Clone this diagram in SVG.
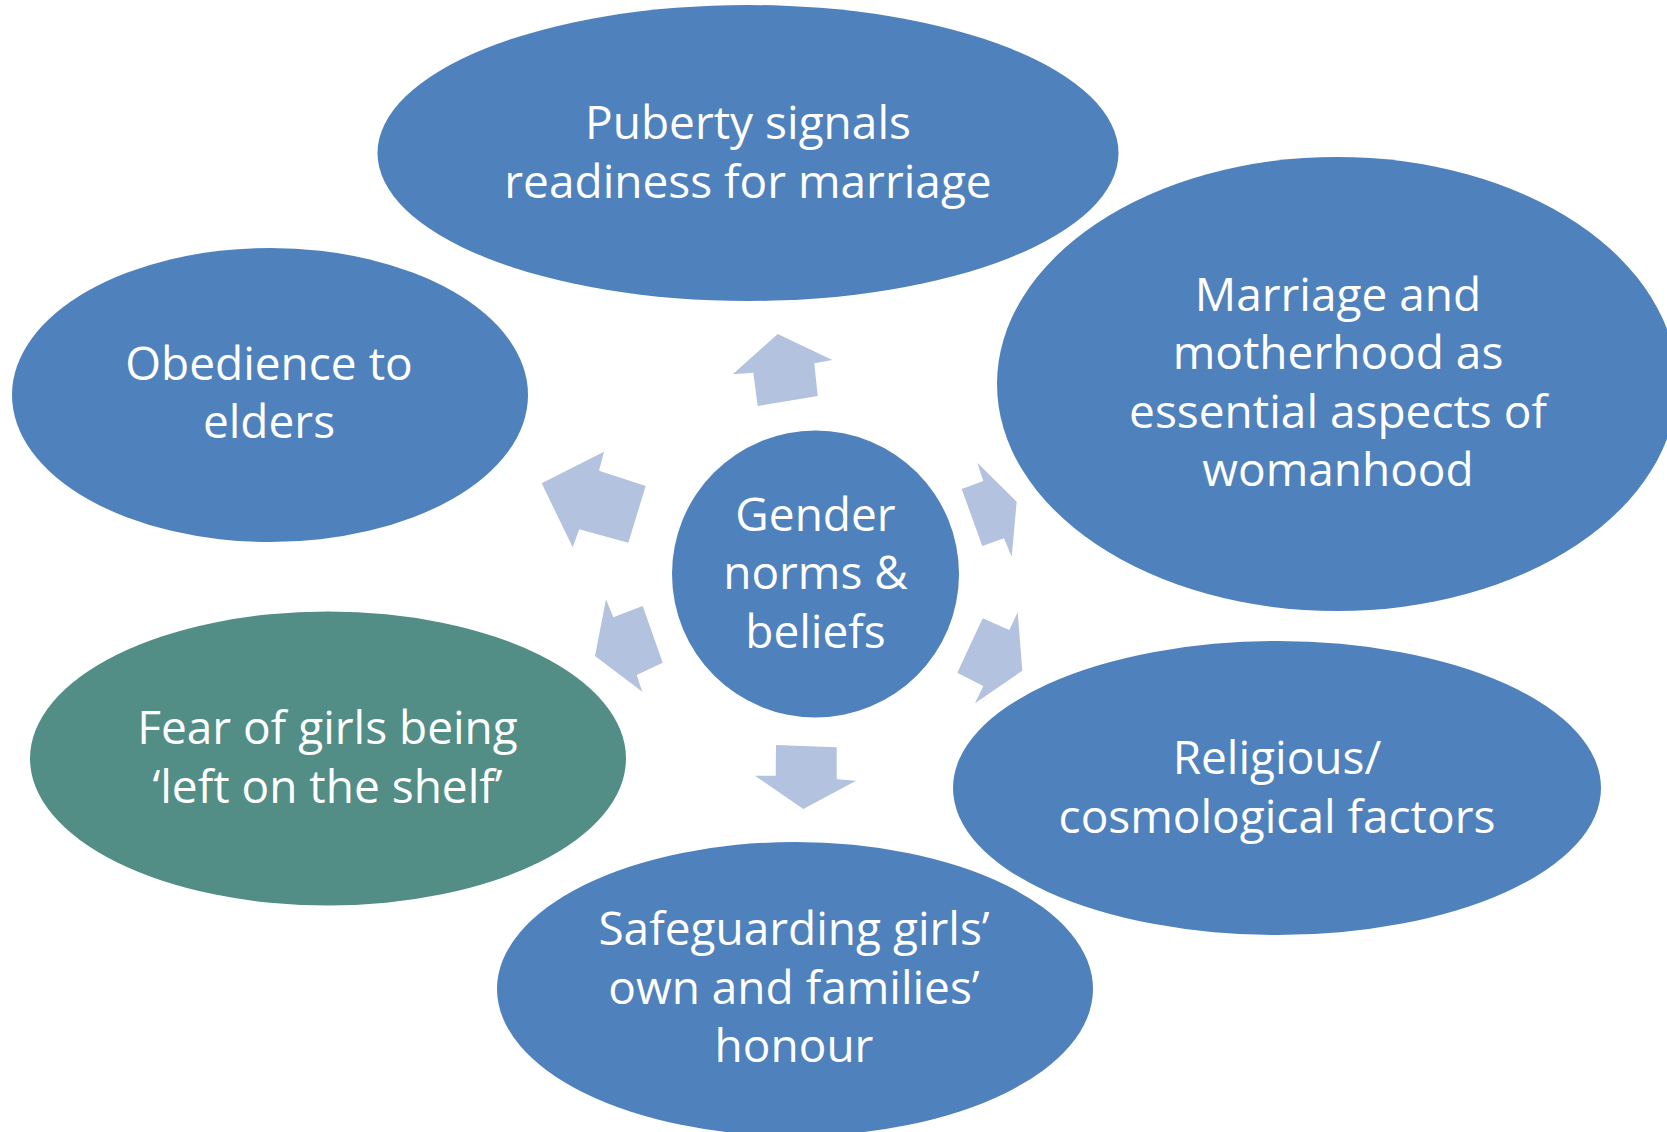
<svg xmlns="http://www.w3.org/2000/svg" width="1667" height="1132" viewBox="0 0 1667 1132">
<style>
.n{fill:#4F81BD;}
.g{fill:#528E86;}
.a{fill:#B3C2DE;}
text{font-family:"Open Sans","Noto Sans",sans-serif;font-size:46px;fill:#FFFFFF;text-anchor:middle;}
</style>
<rect width="1667" height="1132" fill="#FFFFFF"/>
<g id="connectors">
<polygon class="a" points="777.7,334 832.3,360 814.3,363.3 817.7,396 757.7,406 753.3,372.7 732.7,374.3"/>
<polygon class="a" points="541.7,483.3 604,451.7 599,470.7 645.7,486 628.3,542.7 579.3,529.3 572.7,547.3"/>
<polygon class="a" points="977.3,462.7 1016.7,501.7 1011.7,556.7 1004,538.3 982.3,546 961.7,489 983.3,481"/>
<polygon class="a" points="1017.7,612.3 1022.3,670.7 975,703.3 983.3,686 957.3,672.7 982.7,618.3 1009.3,630"/>
<polygon class="a" points="606,599.3 613.3,617.3 642.7,606 662.7,662.7 636.7,675 642.3,691.7 595,656"/>
<polygon class="a" points="776,745 836.7,747.3 836.7,779.3 856,780.7 803.3,809 755,775.7 775.7,775.7"/>
</g>
<g id="puberty">
<ellipse class="n" cx="748" cy="153" rx="370.5" ry="148"/>
<text x="748" y="139">Puberty signals</text>
<text x="748" y="198">readiness for marriage</text>
</g>
<g id="marriage">
<ellipse class="n" cx="1337" cy="384" rx="340" ry="227"/>
<text x="1338" y="311">Marriage and</text>
<text x="1338" y="369">motherhood as</text>
<text x="1338" y="428">essential aspects of</text>
<text x="1338" y="486">womanhood</text>
</g>
<g id="obedience">
<ellipse class="n" cx="270" cy="395" rx="258" ry="147"/>
<text x="269" y="380">Obedience to</text>
<text x="269" y="438">elders</text>
</g>
<g id="fear">
<ellipse class="g" cx="328" cy="758.5" rx="298" ry="147"/>
<text x="327.5" y="744">Fear of girls being</text>
<text x="327.5" y="803">‘left on the shelf’</text>
</g>
<g id="religious">
<ellipse class="n" cx="1277" cy="788" rx="324" ry="147"/>
<text x="1277" y="774">Religious/</text>
<text x="1277" y="833">cosmological factors</text>
</g>
<g id="safeguarding">
<ellipse class="n" cx="795" cy="989" rx="298" ry="147"/>
<text x="794" y="945">Safeguarding girls’</text>
<text x="794" y="1004">own and families’</text>
<text x="794" y="1062">honour</text>
</g>
<g id="center">
<circle class="n" cx="815.5" cy="574" r="143.5"/>
<text x="815.5" y="531">Gender</text>
<text x="815.5" y="589">norms &amp;</text>
<text x="815.5" y="648">beliefs</text>
</g>
</svg>
